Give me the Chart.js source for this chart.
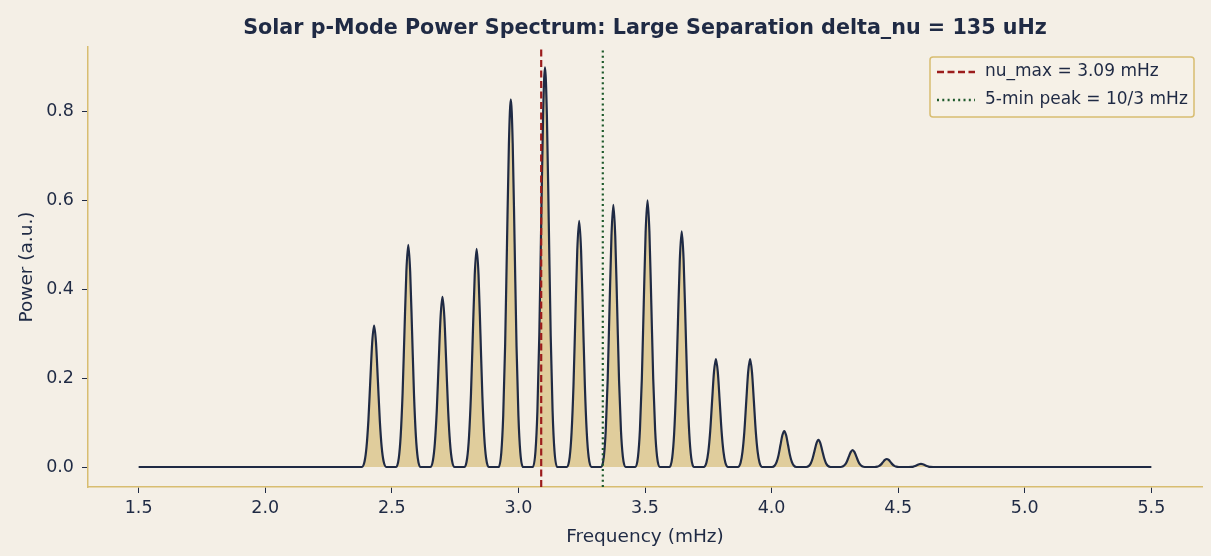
<!DOCTYPE html>
<html lang="en">
<head>
  <meta charset="UTF-8" />
  <title>Solar p-Mode Power Spectrum</title>
  <script src="https://cdn.jsdelivr.net/npm/chart.js"></script>
  <style>
    html, body { margin: 0; padding: 0; background: #f4efe6; }
    #wrap { width: 1211px; height: 556px; position: relative; }
  </style>
</head>
<body>
  <div id="wrap"><canvas id="spectrum"></canvas></div>

  <script>
    // values
    const freqSpan = [1.5, 5.5];                       // mHz, where the curve starts / ends
    const peakFreqs = [2.43, 2.565, 2.70, 2.835, 2.97, 3.105, 3.24, 3.375, 3.51,
                       3.645, 3.78, 3.915, 4.05, 4.185, 4.32, 4.455, 4.59];
    const peakPowers = [0.318, 0.50, 0.383, 0.491, 0.827, 0.899, 0.554, 0.59, 0.60,
                        0.53, 0.243, 0.243, 0.081, 0.061, 0.038, 0.018, 0.007];
    // shape of one mode peak (offset in mHz, fraction of peak height)
    const profileOffsets = [-0.048, -0.0375, -0.03, -0.0225, -0.015, -0.0075, 0,
                            0.0075, 0.015, 0.0225, 0.03, 0.0375, 0.048];
    const profileShape = [0, 0.04, 0.14, 0.33, 0.61, 0.88, 1, 0.88, 0.61, 0.33, 0.14, 0.04, 0];
    const nuMax = 3.09;
    const fiveMinPeak = 10 / 3;
    const xTicks = [1.5, 2.0, 2.5, 3.0, 3.5, 4.0, 4.5, 5.0, 5.5];
    const yTicks = [0.0, 0.2, 0.4, 0.6, 0.8];
    const xRange = [1.3, 5.7];
    const yRange = [-0.045, 0.945];

    const navy = '#1f2a44';
    const gold = '#d8bd70';

    // build the spectrum points from the peak tables
    const spectrum = [{ x: freqSpan[0], y: 0 }];
    peakFreqs.forEach((f, i) => {
      profileOffsets.forEach((d, j) => {
        spectrum.push({ x: f + d, y: peakPowers[i] * profileShape[j] });
      });
    });
    spectrum.push({ x: freqSpan[1], y: 0 });

    const vline = (x) => [{ x: x, y: yRange[0] }, { x: x, y: yRange[1] }];

    // title, axis labels and the legend box
    const decorations = {
      id: 'decorations',
      afterDraw(chart) {
        const { ctx, chartArea } = chart;
        const cx = (chartArea.left + chartArea.right) / 2;
        ctx.save();
        ctx.fillStyle = navy;
        ctx.textAlign = 'center';
        ctx.textBaseline = 'middle';
        ctx.font = 'bold 20.7px "DejaVu Sans"';
        ctx.fillText('Solar p-Mode Power Spectrum: Large Separation delta_nu = 135 uHz', cx, 29);

        ctx.font = '18.5px "DejaVu Sans"';
        ctx.fillText('Frequency (mHz)', cx, 537);
        ctx.save();
        ctx.translate(27, (chartArea.top + chartArea.bottom) / 2);
        ctx.rotate(-Math.PI / 2);
        ctx.fillText('Power (a.u.)', 0, 0);
        ctx.restore();

        // legend
        const bx = 930, by = 57, bw = 264, bh = 60;
        ctx.beginPath();
        ctx.roundRect(bx, by, bw, bh, 3);
        ctx.fillStyle = 'rgba(246,241,231,0.9)';
        ctx.fill();
        ctx.strokeStyle = gold;
        ctx.lineWidth = 1.5;
        ctx.stroke();

        const items = [
          { label: 'nu_max = 3.09 mHz', color: '#9b1c1c', dash: [7, 3.5], y: 72 },
          { label: '5-min peak = 10/3 mHz', color: '#1e5a2c', dash: [2, 3.3], y: 100 }
        ];
        items.forEach(it => {
          ctx.beginPath();
          ctx.setLineDash(it.dash);
          ctx.strokeStyle = it.color;
          ctx.lineWidth = 2.5;
          ctx.moveTo(937, it.y);
          ctx.lineTo(975, it.y);
          ctx.stroke();
          ctx.setLineDash([]);
          ctx.fillStyle = navy;
          ctx.textAlign = 'left';
          ctx.font = '17px "DejaVu Sans"';
          ctx.fillText(it.label, 985, it.y);
        });
        ctx.restore();
      }
    };

    new Chart(document.getElementById('spectrum'), {
      type: 'line',
      data: {
        datasets: [
          {
            label: 'spectrum',
            data: spectrum,
            borderColor: navy,
            borderWidth: 2.2,
            backgroundColor: '#e0cd9c',
            fill: 'origin',
            pointRadius: 0,
            cubicInterpolationMode: 'monotone',
            order: 3
          },
          {
            label: 'nu_max',
            data: vline(nuMax),
            borderColor: '#9b1c1c',
            borderWidth: 2.2,
            borderDash: [7, 3.5],
            pointRadius: 0,
            fill: false,
            order: 1
          },
          {
            label: '5-min peak',
            data: vline(fiveMinPeak),
            borderColor: '#1e5a2c',
            borderWidth: 2.2,
            borderDash: [2, 3.3],
            pointRadius: 0,
            fill: false,
            order: 2
          }
        ]
      },
      options: {
        responsive: true,
        maintainAspectRatio: false,
        animation: false,
        layout: { padding: { top: 47, right: 9, left: 0, bottom: 0 } },
        scales: {
          x: {
            type: 'linear',
            min: xRange[0],
            max: xRange[1],
            afterBuildTicks: s => { s.ticks = xTicks.map(v => ({ value: v })); },
            afterFit: s => { s.height = 69; },
            grid: { drawOnChartArea: false, drawTicks: true, tickLength: 6, color: navy },
            border: { color: gold, width: 1.5 },
            ticks: {
              color: navy,
              padding: 5,
              maxRotation: 0,
              font: { family: 'DejaVu Sans', size: 17.5 },
              callback: v => v.toFixed(1)
            }
          },
          y: {
            type: 'linear',
            min: yRange[0],
            max: yRange[1],
            afterBuildTicks: s => { s.ticks = yTicks.map(v => ({ value: v })); },
            afterFit: s => { s.width = 88; },
            grid: { drawOnChartArea: false, drawTicks: true, tickLength: 6, color: navy },
            border: { color: gold, width: 1.5 },
            ticks: {
              color: navy,
              padding: 8,
              font: { family: 'DejaVu Sans', size: 17.5 },
              callback: v => v.toFixed(1)
            }
          }
        },
        plugins: {
          legend: { display: false },
          title: { display: false },
          tooltip: { enabled: false }
        }
      },
      plugins: [decorations]
    });
  </script>
</body>
</html>
